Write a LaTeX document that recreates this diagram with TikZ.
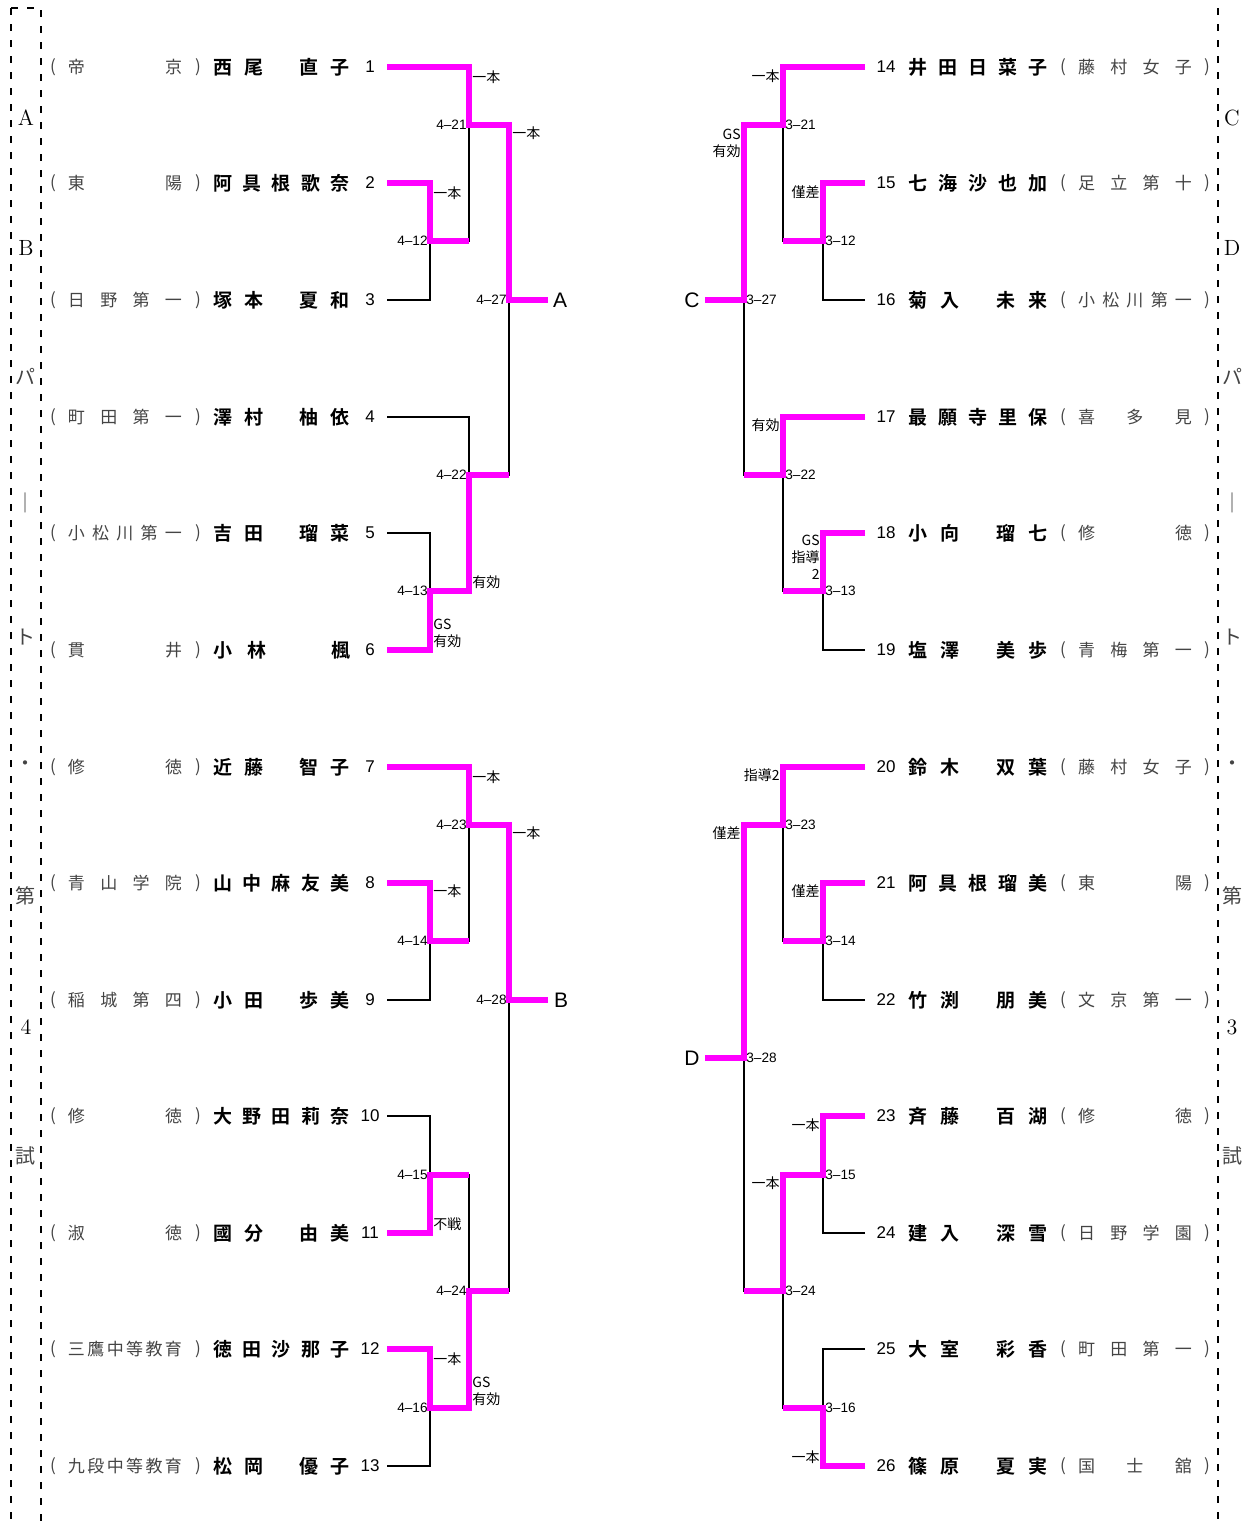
\documentclass[tikz,border=0pt]{standalone}
\usepackage{fontspec}
\newfontfamily\jp{Noto Sans CJK JP}[BoldFont={Noto Sans CJK JP Bold}]
\newfontfamily\arial{Liberation Sans}
\definecolor{wmag}{HTML}{FF00FF}
\definecolor{sgray}{HTML}{444444}
\newcommand\gapp{\hfil\hfil\hfil}
\tikzset{
  bk/.style={draw=black,line width=1pt},
  win/.style={draw=wmag,line width=2.6pt},
  nm/.style={font=\jp\bfseries\fontsize{9.5}{11}\selectfont,inner sep=0pt},
  num/.style={font=\arial\fontsize{8.5}{10}\selectfont,inner sep=0pt},
  sch/.style={font=\jp\fontsize{8.5}{10}\selectfont,text=sgray,inner sep=0pt},
  sc/.style={font=\arial\fontsize{6.8}{8}\selectfont,inner sep=1pt},
  resl/.style={font=\jp\fontsize{7}{8.4}\selectfont,inner sep=0pt,anchor=west,align=left},
  resr/.style={font=\jp\fontsize{7}{8.4}\selectfont,inner sep=0pt,anchor=east,align=right},
  fin/.style={font=\arial\fontsize{10.5}{12}\selectfont,inner sep=0pt},
  side/.style={font=\fontsize{11}{13}\selectfont,inner sep=0pt},
  sidejp/.style={font=\jp\fontsize{10}{12}\selectfont,text=sgray,inner sep=0pt},
  sepline/.style={line width=1pt,dash pattern=on 3.5pt off 4.5pt},
}
\begin{document}
\begin{tikzpicture}[x=0.5pt,y=-0.5pt]
  \useasboundingbox (0,0) rectangle (1243,1521);
  % side columns
  \draw[sepline] (11,8) -- (11,1521);
  \draw[sepline] (11,8) -- (41,8) -- (41,1521);
  \draw[sepline] (1218,8) -- (1218,1521);
  \foreach \y/\l/\r in {118/A/C,248/B/D,1027/4/3}{
    \node[side] (sl\y) at (26,\y) {\l};
    \node[side] (sr\y) at (1232,\y) {\r};
  }
  \foreach \y/\t in {376/パ,503/｜,637/ト,766/・,896/第,1156/試}{
    \node[sidejp] (tl\y) at (26,\y) {\t};
    \node[sidejp] (tr\y) at (1232,\y) {\t};
  }
  % players, left block
  \foreach \pn/\y/\who/\club in {
    1/67/{西\hfil 尾\gapp 直\hfil 子}/{帝\hfil 京},
    2/183/{阿\hfil 具\hfil 根\hfil 歌\hfil 奈}/{東\hfil 陽},
    3/300/{塚\hfil 本\gapp 夏\hfil 和}/{日\hfil 野\hfil 第\hfil 一},
    4/417/{澤\hfil 村\gapp 柚\hfil 依}/{町\hfil 田\hfil 第\hfil 一},
    5/533/{吉\hfil 田\gapp 瑠\hfil 菜}/{小\hfil 松\hfil 川\hfil 第\hfil 一},
    6/650/{小\hfil 林\hfil\gapp 楓}/{貫\hfil 井},
    7/767/{近\hfil 藤\gapp 智\hfil 子}/{修\hfil 徳},
    8/883/{山\hfil 中\hfil 麻\hfil 友\hfil 美}/{青\hfil 山\hfil 学\hfil 院},
    9/1000/{小\hfil 田\gapp 歩\hfil 美}/{稲\hfil 城\hfil 第\hfil 四},
    10/1116/{大\hfil 野\hfil 田\hfil 莉\hfil 奈}/{修\hfil 徳},
    11/1233/{國\hfil 分\gapp 由\hfil 美}/{淑\hfil 徳},
    12/1349/{徳\hfil 田\hfil 沙\hfil 那\hfil 子}/{三\hfil 鷹\hfil 中\hfil 等\hfil 教\hfil 育},
    13/1466/{松\hfil 岡\gapp 優\hfil 子}/{九\hfil 段\hfil 中\hfil 等\hfil 教\hfil 育}}{
    \node[sch] (lp\pn) at (53,\y) {(};
    \node[sch] (c\pn) at (125,\y) {\makebox[57pt][s]{\club}};
    \node[sch] (rp\pn) at (198,\y) {)};
    \node[nm] (n\pn) at (281.5,\y) {\makebox[68.5pt][s]{\who}};
    \node[num] (p\pn) at (370,\y) {\pn};
    \coordinate (e\pn) at (387,\y);
  }
  % players, right block
  \foreach \pn/\y/\who/\club in {
    14/67/{井\hfil 田\hfil 日\hfil 菜\hfil 子}/{藤\hfil 村\hfil 女\hfil 子},
    15/183/{七\hfil 海\hfil 沙\hfil 也\hfil 加}/{足\hfil 立\hfil 第\hfil 十},
    16/300/{菊\hfil 入\gapp 未\hfil 来}/{小\hfil 松\hfil 川\hfil 第\hfil 一},
    17/417/{最\hfil 願\hfil 寺\hfil 里\hfil 保}/{喜\hfil 多\hfil 見},
    18/533/{小\hfil 向\gapp 瑠\hfil 七}/{修\hfil 徳},
    19/650/{塩\hfil 澤\gapp 美\hfil 歩}/{青\hfil 梅\hfil 第\hfil 一},
    20/767/{鈴\hfil 木\gapp 双\hfil 葉}/{藤\hfil 村\hfil 女\hfil 子},
    21/883/{阿\hfil 具\hfil 根\hfil 瑠\hfil 美}/{東\hfil 陽},
    22/1000/{竹\hfil 渕\gapp 朋\hfil 美}/{文\hfil 京\hfil 第\hfil 一},
    23/1116/{斉\hfil 藤\gapp 百\hfil 湖}/{修\hfil 徳},
    24/1233/{建\hfil 入\gapp 深\hfil 雪}/{日\hfil 野\hfil 学\hfil 園},
    25/1349/{大\hfil 室\gapp 彩\hfil 香}/{町\hfil 田\hfil 第\hfil 一},
    26/1466/{篠\hfil 原\gapp 夏\hfil 実}/{国\hfil 士\hfil 舘}}{
    \node[num] (p\pn) at (886,\y) {\pn};
    \node[nm] (n\pn) at (978,\y) {\makebox[69.5pt][s]{\who}};
    \node[sch] (lp\pn) at (1063,\y) {(};
    \node[sch] (c\pn) at (1135,\y) {\makebox[57pt][s]{\club}};
    \node[sch] (rp\pn) at (1207,\y) {)};
    \coordinate (e\pn) at (865,\y);
  }
  % match points
  \foreach \m/\x/\y in {412/430/241,421/469/125,413/430/591,422/469/475,427/509/300,
      414/430/941,423/469/825,415/430/1175,416/430/1408,424/469/1291,428/509/1000,
      312/823/241,321/783/125,313/823/591,322/783/475,327/744/300,
      314/823/941,323/783/825,315/823/1175,316/823/1408,324/783/1291,328/744/1058}
    \coordinate (m\m) at (\x,\y);
  \coordinate (tA) at (548,300);
  \coordinate (tB) at (548,1000);
  \coordinate (tC) at (705,300);
  \coordinate (tD) at (705,1058);
  % bracket lines
  \foreach \a/\b/\m in {e2/e3/412,e1/m412/421,e5/e6/413,e4/m413/422,m421/m422/427,
      e8/e9/414,e7/m414/423,e10/e11/415,e12/e13/416,m415/m416/424,m423/m424/428,
      e15/e16/312,e14/m312/321,e18/e19/313,e17/m313/322,m321/m322/327,
      e21/e22/314,e20/m314/323,e23/e24/315,e25/e26/316,m315/m316/324,m323/m324/328}{
    \draw[bk] (\a) -| (m\m);
    \draw[bk] (\b) -| (m\m);
  }
  % winners
  \draw[win] (e1) -| (m421) -| (m427) -- (tA);
  \draw[win] (e2) -| (m412) -- (m412 -| m421);
  \draw[win] (e6) -| (m413) -| (m422) -- (m422 -| m427);
  \draw[win] (e7) -| (m423) -| (m428) -- (tB);
  \draw[win] (e8) -| (m414) -- (m414 -| m423);
  \draw[win] (e11) -| (m415) -- (m415 -| m424);
  \draw[win] (e12) -| (m416) -| (m424) -- (m424 -| m428);
  \draw[win] (e14) -| (m321) -| (m327) -- (tC);
  \draw[win] (e15) -| (m312) -- (m312 -| m321);
  \draw[win] (e17) -| (m322) -- (m322 -| m327);
  \draw[win] (e18) -| (m313) -- (m313 -| m322);
  \draw[win] (e20) -| (m323) -| (m328) -- (tD);
  \draw[win] (e21) -| (m314) -- (m314 -| m323);
  \draw[win] (e23) -| (m315) -| (m324) -- (m324 -| m328);
  \draw[win] (e26) -| (m316) -- (m316 -| m324);
  \node[fin] (lA) at (560,300) {A};
  \node[fin] (lB) at (561,1000) {B};
  \node[fin] (lC) at (692,300) {C};
  \node[fin] (lD) at (692,1058) {D};
  % match numbers
  \foreach \m/\t in {412/4–12,421/4–21,413/4–13,422/4–22,427/4–27,414/4–14,423/4–23,
      415/4–15,416/4–16,424/4–24,428/4–28}
    \node[sc,anchor=east] (s\m) at (m\m) {\t};
  \foreach \m/\t in {312/3–12,321/3–21,313/3–13,322/3–22,327/3–27,314/3–14,323/3–23,
      315/3–15,316/3–16,324/3–24,328/3–28}
    \node[sc,anchor=west] (s\m) at (m\m) {\t};
  % results
  \node[resl] (r412) at (433,193) {一本};
  \node[resl] (r421) at (472,77) {一本};
  \node[resl] (r427) at (512,133) {一本};
  \node[resl] (r413) at (433,633) {GS\\有効};
  \node[resl] (r422) at (472,582) {有効};
  \node[resl] (r414) at (433,891) {一本};
  \node[resl] (r423) at (472,777) {一本};
  \node[resl] (r428) at (512,833) {一本};
  \node[resl] (r415) at (433,1224) {不戦};
  \node[resl] (r416) at (433,1359) {一本};
  \node[resl] (r424) at (472,1391) {GS\\有効};
  \node[resr] (r312) at (820,192) {僅差};
  \node[resr] (r321) at (780,76) {一本};
  \node[resr] (r327) at (741,143) {GS\\有効};
  \node[resr] (r313) at (820,557) {GS\\指導\\2};
  \node[resr] (r322) at (780,425) {有効};
  \node[resr] (r314) at (820,891) {僅差};
  \node[resr] (r323) at (780,775) {指導2};
  \node[resr] (r328) at (741,833) {僅差};
  \node[resr] (r315) at (820,1125) {一本};
  \node[resr] (r316) at (820,1457) {一本};
  \node[resr] (r324) at (780,1183) {一本};
\end{tikzpicture}
\end{document}
